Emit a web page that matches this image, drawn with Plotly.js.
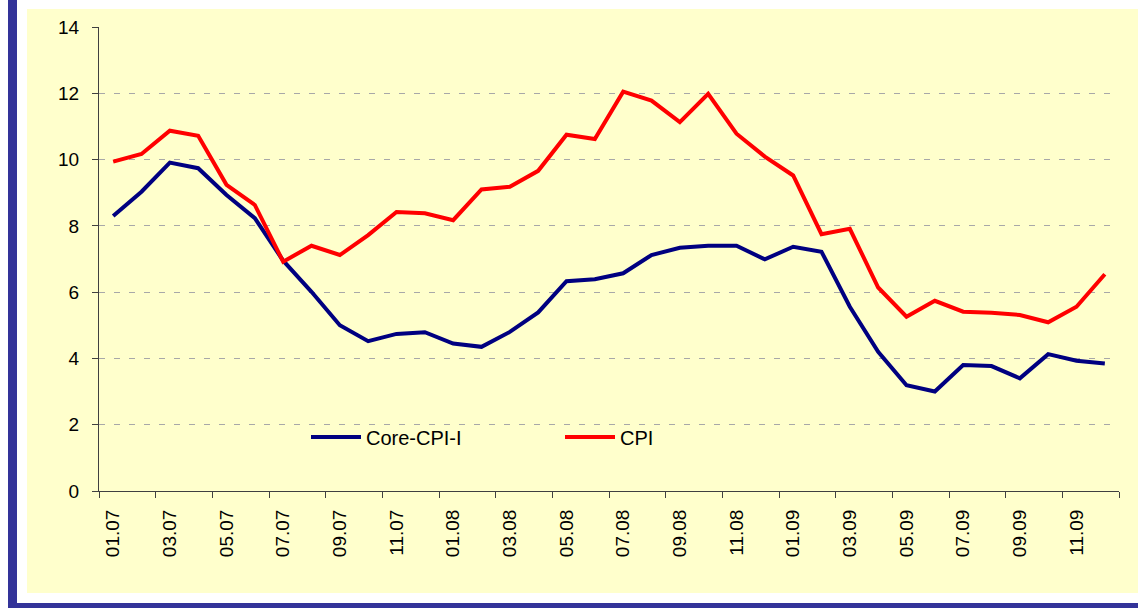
<!DOCTYPE html>
<html>
<head>
<meta charset="utf-8">
<script src="https://cdn.plot.ly/plotly-3.0.1.min.js"></script>
<style>
html,body{margin:0;padding:0;background:#ffffff;}
#chart{width:1138px;height:608px;}
</style>
</head>
<body>
<div id="chart"></div>
<script>
// ---- data ----
const months = ["01.07","02.07","03.07","04.07","05.07","06.07","07.07","08.07","09.07","10.07","11.07","12.07",
                "01.08","02.08","03.08","04.08","05.08","06.08","07.08","08.08","09.08","10.08","11.08","12.08",
                "01.09","02.09","03.09","04.09","05.09","06.09","07.09","08.09","09.09","10.09","11.09","12.09"];
const tickLabels = ["01.07","03.07","05.07","07.07","09.07","11.07","01.08","03.08","05.08","07.08","09.08","11.08",
                    "01.09","03.09","05.09","07.09","09.09","11.09"];
const coreCPI = [8.30,9.03,9.91,9.74,8.93,8.23,6.95,6.01,5.00,4.52,4.74,4.79,
                 4.45,4.35,4.80,5.39,6.33,6.39,6.57,7.12,7.34,7.40,7.40,6.99,
                 7.37,7.22,5.56,4.20,3.19,3.00,3.80,3.77,3.40,4.13,3.93,3.85];
const cpi = [9.94,10.17,10.87,10.72,9.24,8.63,6.92,7.40,7.12,7.72,8.42,8.38,
             8.17,9.10,9.18,9.66,10.75,10.62,12.05,11.78,11.13,11.98,10.78,10.09,
             9.52,7.75,7.91,6.14,5.26,5.74,5.41,5.38,5.31,5.09,5.56,6.54];
const seriesNames = ["Core-CPI-I","CPI"];

// ---- layout geometry ----
const W = 1138, H = 608;
const mL = 99, mR = 19, mT = 27, mB = 117;
const pw = W - mL - mR, ph = H - mT - mB;
const px = v => (v - mL) / pw;          // pixel -> paper x
const py = v => (H - mB - v) / ph;      // pixel -> paper y

const font = "'Liberation Sans', Arial, sans-serif";

const traces = [
  {x: months, y: coreCPI, name: seriesNames[0], type: "scatter", mode: "lines",
   line: {color: "#000080", width: 4}, xaxis: "x", yaxis: "y"},
  {x: months, y: cpi, name: seriesNames[1], type: "scatter", mode: "lines",
   line: {color: "#FF0000", width: 4}, xaxis: "x", yaxis: "y"}
];

// boundary ticks for the secondary axis (every 2 categories)
const boundaryTicks = [];
for (let i = 0; i <= months.length; i += 2) boundaryTicks.push(i - 0.5);

const layout = {
  width: W, height: H,
  margin: {l: mL, r: mR, t: mT, b: mB, pad: 0},
  paper_bgcolor: "#FFFFFF",
  plot_bgcolor: "#FFFFCC",
  font: {family: font, size: 19, color: "#000000"},
  showlegend: true,
  legend: {
    orientation: "h",
    x: px(306), xanchor: "left",
    y: py(437), yanchor: "middle",
    bgcolor: "rgba(0,0,0,0)", borderwidth: 0,
    font: {family: font, size: 20, color: "#000000"},
    entrywidth: 189, entrywidthmode: "pixels",
    itemwidth: 50
  },
  xaxis: {
    type: "category",
    categoryarray: months, categoryorder: "array",
    range: [-0.5, months.length - 0.5],
    tickmode: "array", tickvals: tickLabels, ticktext: tickLabels,
    tickangle: -90, ticks: "", ticklabelstandoff: 10,
    tickfont: {family: font, size: 19, color: "#000000"},
    showgrid: false, zeroline: false,
    showline: true, linecolor: "#404040", linewidth: 1,
    fixedrange: true
  },
  xaxis2: {
    overlaying: "x", anchor: "y",
    range: [-0.5, months.length - 0.5],
    tickmode: "array", tickvals: boundaryTicks, showticklabels: false,
    ticks: "outside", ticklen: 6, tickcolor: "#404040", tickwidth: 1,
    showgrid: false, zeroline: false, showline: false
  },
  yaxis: {
    range: [0, 14], tickmode: "linear", tick0: 0, dtick: 2,
    ticks: "outside", ticklen: 6, tickcolor: "#404040", tickwidth: 1,
    ticklabelstandoff: 9,
    tickfont: {family: font, size: 19, color: "#000000"},
    showgrid: true, gridcolor: "#A8A8A8", griddash: "6px,9px", gridwidth: 1,
    zeroline: false, showline: true, linecolor: "#404040", linewidth: 1,
    fixedrange: true
  },
  shapes: [
    // yellow chart area
    {type: "rect", xref: "paper", yref: "paper", layer: "below",
     x0: px(27), x1: px(1138), y0: py(593), y1: py(9),
     fillcolor: "#FFFFCC", line: {width: 0}},
    // blue frame left
    {type: "rect", xref: "paper", yref: "paper", layer: "below",
     x0: px(8), x1: px(17), y0: py(608), y1: py(0),
     fillcolor: "#333399", line: {width: 0}},
    // blue frame bottom
    {type: "rect", xref: "paper", yref: "paper", layer: "below",
     x0: px(8), x1: px(1138), y0: py(608), y1: py(603),
     fillcolor: "#333399", line: {width: 0}},
    // legend background box (hides the gridline behind the legend)
    {type: "rect", xref: "paper", yref: "paper", layer: "between",
     x0: px(262), x1: px(705), y0: py(460), y1: py(414),
     fillcolor: "#FFFFCC", line: {width: 0}}
  ]
};

// invisible trace on xaxis2 so the overlay axis is drawn
traces.push({x: [0], y: [0], xaxis: "x2", yaxis: "y", type: "scatter", mode: "markers",
             marker: {opacity: 0}, showlegend: false, hoverinfo: "skip"});

Plotly.newPlot("chart", traces, layout, {displayModeBar: false, staticPlot: true});
</script>
</body>
</html>
